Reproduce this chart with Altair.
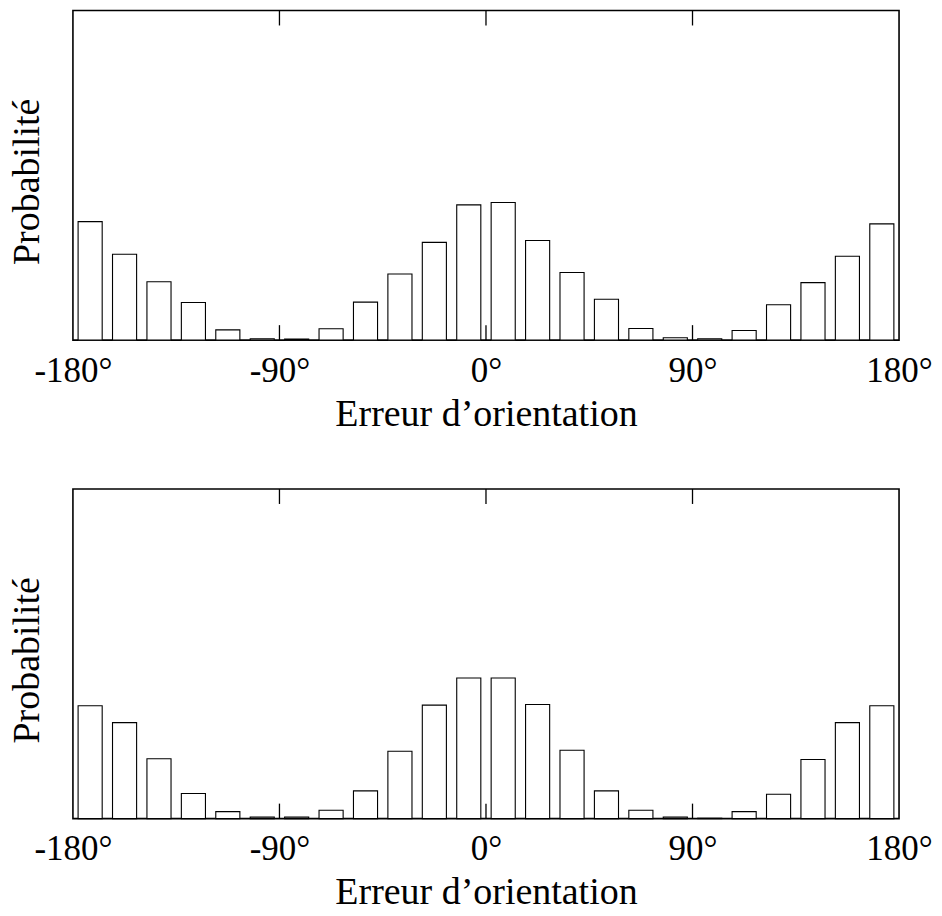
import altair as alt
import pandas as pd

# bin centres (degrees), 15° bins from -180 to 180
centres = [-172.5 + 15 * i for i in range(24)]

top_values = [0.0899, 0.0651, 0.0443, 0.0285, 0.0078, 0.0011, 0.0009, 0.0086,
              0.0288, 0.0501, 0.0741, 0.1026, 0.1044, 0.0756, 0.0513, 0.0310,
              0.0088, 0.0018, 0.0011, 0.0073, 0.0268, 0.0436, 0.0636, 0.0882]

bottom_values = [0.0856, 0.0728, 0.0454, 0.0191, 0.0053, 0.0011, 0.0011, 0.0063,
                 0.0210, 0.0511, 0.0861, 0.1066, 0.1066, 0.0866, 0.0518, 0.0210,
                 0.0063, 0.0011, 0.0003, 0.0053, 0.0185, 0.0448, 0.0728, 0.0856]

tick_values = [-180, -90, 0, 90, 180]
inner_ticks = [-90, 0, 90]

bar_half = 5.25  # half bar width in degrees
FONT = "Liberation Serif"
W, H = 827, 330


def panel(values):
    df = pd.DataFrame({
        "lo": [c - bar_half for c in centres],
        "hi": [c + bar_half for c in centres],
        "p": values,
        "base": [0.0] * len(values),
    })
    xs = alt.Scale(domain=[-180, 180], nice=False, zero=False)
    ys = alt.Scale(domain=[0, 0.25], nice=False)
    bars = alt.Chart(df).mark_rect(
        fill="white", stroke="black", strokeWidth=1.1
    ).encode(
        x=alt.X("lo:Q", scale=xs, axis=alt.Axis(
            values=tick_values, labelExpr="datum.value + '°'",
            ticks=False, domain=False, grid=False,
            labelFont=FONT, labelFontSize=35, labelColor="black",
            labelPadding=13, labelFlush=False,
            title="Erreur d’orientation", titleFont=FONT, titleFontSize=38,
            titleFontWeight="normal", titleColor="black", titlePadding=7)),
        x2="hi:Q",
        y=alt.Y("p:Q", scale=ys, axis=alt.Axis(
            labels=False, ticks=False, domain=False, grid=False,
            title="Probabilité", titleFont=FONT, titleFontSize=38,
            titleFontWeight="normal", titleColor="black", titlePadding=26,
            titleY=H / 2 + 6)),
        y2="base:Q",
    )
    tdf = pd.DataFrame({"t": inner_ticks})
    top_ticks = alt.Chart(tdf).mark_rule(color="black", strokeWidth=1.3).encode(
        x=alt.X("t:Q", scale=xs), y=alt.value(0), y2=alt.value(15))
    bot_ticks = alt.Chart(tdf).mark_rule(color="black", strokeWidth=1.3).encode(
        x=alt.X("t:Q", scale=xs), y=alt.value(H - 15), y2=alt.value(H))
    return alt.layer(bars, top_ticks, bot_ticks).properties(width=W, height=H)


chart = alt.vconcat(
    panel(top_values), panel(bottom_values), spacing=53,
    padding=0,
    background="white",
).configure_view(stroke="black", strokeWidth=1.6)

chart.save("out.html", embed_options={"renderer": "svg", "actions": False})
